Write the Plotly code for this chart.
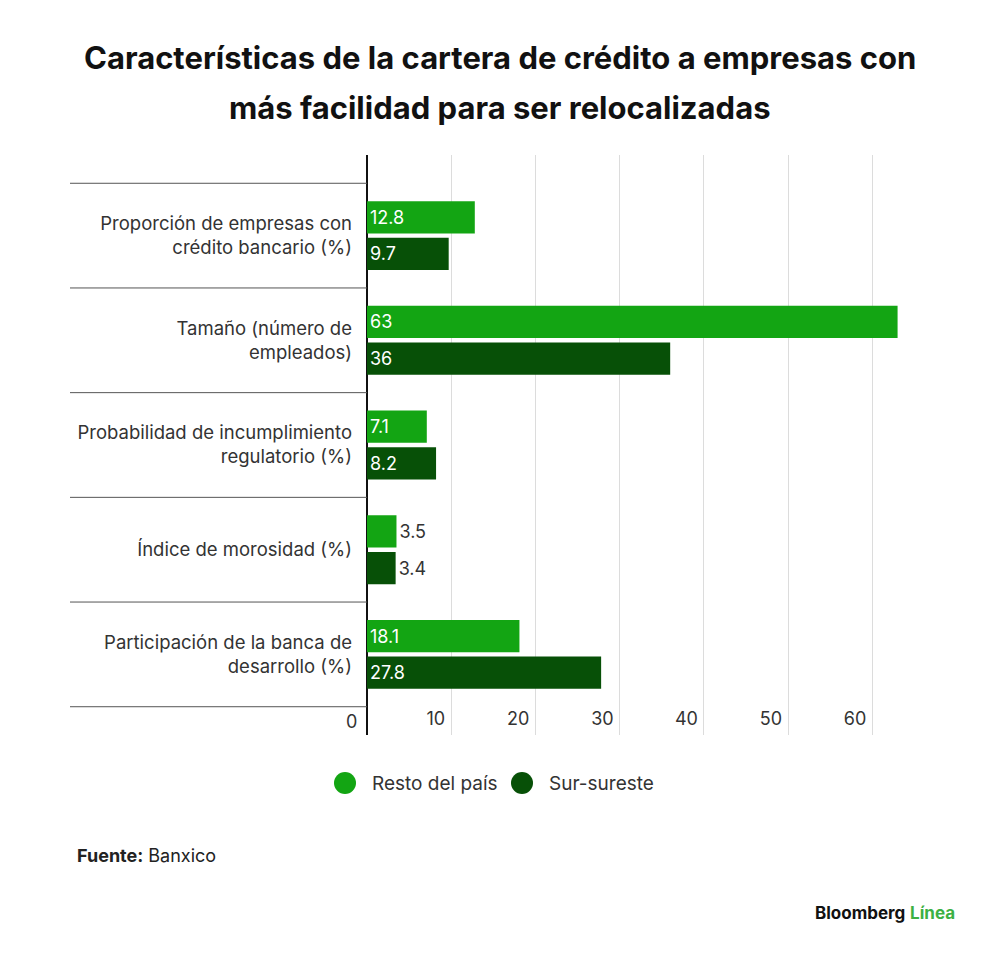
import plotly.graph_objects as go

categorias = [
    "Proporción de empresas con<br>crédito bancario (%)",
    "Tamaño (número de<br>empleados)",
    "Probabilidad de incumplimiento<br>regulatorio (%)",
    "Índice de morosidad (%)",
    "Participación de la banca de<br>desarrollo (%)",
]
series = ["Resto del país", "Sur-sureste"]
resto_pais = [12.8, 63, 7.1, 3.5, 18.1]
sur_sureste = [9.7, 36, 8.2, 3.4, 27.8]
x_ticks = [0, 10, 20, 30, 40, 50, 60]

VERDE = "#13a513"
VERDE_OSC = "#075007"
FONT = "Inter"

# the page body has an 8px margin, so the figure is drawn 8px smaller
OFF = 8
W, H = 1000 - OFF, 957 - OFF
L, R, T, B = 367 - OFF, 94, 155 - OFF, 222
plot_w = W - L - R
plot_h = H - T - B
pos = list(range(len(categorias)))


def px_x(px):
    return (px - OFF - L) / plot_w


def px_y(py):
    return 1 - (py - OFF - T) / plot_h


fig = go.Figure()
for nombre, vals, col in [(series[0], resto_pais, VERDE),
                          (series[1], sur_sureste, VERDE_OSC)]:
    fig.add_trace(go.Bar(
        y=pos, x=vals, orientation="h", name=nombre,
        marker=dict(color=col, line=dict(width=0)),
        text=[f"{v:g}" for v in vals],
        textposition=["outside" if v < 5 else "inside" for v in vals],
        insidetextanchor="start", constraintext="none",
        insidetextfont=dict(color="white", size=18, family=FONT),
        outsidetextfont=dict(color="#333", size=18, family=FONT),
        showlegend=False, hoverinfo="skip", cliponaxis=False,
    ))

fig.update_layout(
    width=W, height=H,
    margin=dict(l=L, r=R, t=T, b=B),
    paper_bgcolor="white", plot_bgcolor="white",
    barmode="group", bargap=0.30, bargroupgap=0.12,
    font=dict(family=FONT, color="#333", size=18),
    showlegend=False,
)
fig.update_xaxes(
    range=[0, 64], tickvals=x_ticks, ticktext=[str(t) for t in x_ticks],
    ticklabelposition="inside left", ticks="", ticklabelshift=-6,
    showgrid=True, gridcolor="#dcdcdc", gridwidth=1,
    zeroline=True, zerolinecolor="#111", zerolinewidth=2,
    showline=False, tickfont=dict(size=18, color="#333", family=FONT),
    fixedrange=True,
)
fig.update_yaxes(
    range=[4.77, -0.77], tickvals=pos, ticktext=categorias,
    showgrid=False, zeroline=False, showline=False, ticks="",
    ticklabelstandoff=14,
    tickfont=dict(size=18.5, color="#333", family=FONT),
)

# the "0" label sits left of the axis, outside the plot area
fig.add_annotation(text=str(x_ticks[0]), xref="x", yref="paper", x=0, y=px_y(721),
                   xanchor="right", yanchor="middle", xshift=-8, showarrow=False,
                   font=dict(size=18, color="#333", family=FONT))

# separators between categories (left of the axis)
for i in range(len(categorias) + 1):
    fig.add_shape(type="line", xref="paper", yref="y",
                  x0=px_x(70), x1=0, y0=i - 0.5, y1=i - 0.5,
                  line=dict(color="#555", width=1))

# legend with round markers
for nombre, col, cx in [(series[0], VERDE, 345), (series[1], VERDE_OSC, 522)]:
    r = 11
    fig.add_shape(type="circle", xref="paper", yref="paper",
                  x0=px_x(cx - r), x1=px_x(cx + r), y0=px_y(783 + r), y1=px_y(783 - r),
                  fillcolor=col, line=dict(width=0))
    fig.add_annotation(text=nombre, xref="paper", yref="paper",
                       x=px_x(cx + 25), y=px_y(783), xanchor="left", yanchor="middle",
                       showarrow=False, font=dict(size=19, color="#333", family=FONT))

titulo = ["Características de la cartera de crédito a empresas con",
          "más facilidad para ser relocalizadas"]
for k, linea in enumerate(titulo):
    fig.add_annotation(text=f"<b>{linea}</b>", xref="paper", yref="paper",
                       x=px_x(500), y=px_y(57 + 50 * k), xanchor="center", yanchor="middle",
                       showarrow=False, font=dict(size=31, color="#111", family=FONT))

fig.add_annotation(text="<b>Fuente:</b> Banxico", xref="paper", yref="paper",
                   x=px_x(75), y=px_y(855), xanchor="left", yanchor="middle",
                   showarrow=False, font=dict(size=18, color="#222", family=FONT))
fig.add_annotation(text="<b>Bloomberg</b> <b><span style='color:#3cb043'>Línea</span></b>",
                   xref="paper", yref="paper",
                   x=px_x(957), y=px_y(913), xanchor="right", yanchor="middle",
                   showarrow=False, font=dict(size=17, color="#111", family=FONT))

fig.write_html("out.html")
